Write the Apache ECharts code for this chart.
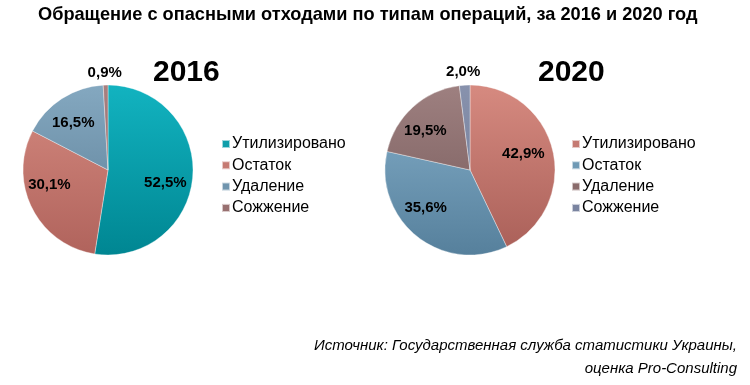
<!DOCTYPE html>
<html><head><meta charset="utf-8">
<script src="https://cdn.jsdelivr.net/npm/echarts@6/dist/echarts.min.js"></script>
<style>html,body{margin:0;padding:0;background:#fff}#c{width:750px;height:385px}</style>
</head><body><div id="c"></div>
<script>
const chartTitle = 'Обращение с опасными отходами по типам операций, за 2016 и 2020 год';
const categories = ['Утилизировано', 'Остаток', 'Удаление', 'Сожжение'];
const years = ['2016', '2020'];
const values2016 = [52.5, 30.1, 16.5, 0.9];
const values2020 = [42.9, 35.6, 19.5, 2.0];
const sourceLines = ['Источник: Государственная служба статистики Украины,', 'оценка Pro-Consulting'];

const FONT = '"Liberation Sans", Arial, sans-serif';
// styles
const colors2016 = [['#12b3c0', '#008692'], ['#d58a80', '#b0635c'], ['#84a8c0', '#5b7d95'], ['#a88080', '#8a6464']];
const colors2020 = [['#d68a80', '#a95f58'], ['#86b0cb', '#56809c'], ['#9e8080', '#745858'], ['#8892ad', '#6c7692']];
const legend2016 = ['#0e9eaa', '#c57a72', '#7095ae', '#987070'];
const legend2020 = ['#c57a72', '#6f9ab5', '#8a6c6c', '#7a84a0'];
const offsets2016 = [[12, 9], [-18, -6], [-10, -9], [-2, -52]];
const offsets2020 = [[9, -6], [-16, 2], [-14, -5], [-4, -53]];
const centers = [[108, 170], [470, 170]];
const R = 85;

function grad(c, cy) {
  return new echarts.graphic.LinearGradient(0, cy - R, 0, cy + R, [
    { offset: 0, color: c[0] }, { offset: 1, color: c[1] }
  ], true);
}
function fmt(p) { return p.value.toFixed(1).replace('.', ',') + '%'; }

function buildSeries(vals, cols, offs, center) {
  return {
    type: 'pie',
    center: center,
    radius: [0, R],
    startAngle: 90,
    clockwise: true,
    animation: false,
    avoidLabelOverlap: false,
    itemStyle: { borderColor: 'rgba(255,255,255,0.6)', borderWidth: 0.6 },
    label: {
      show: true, position: 'inside', formatter: fmt,
      fontFamily: FONT, fontSize: 15, fontWeight: 'bold', color: '#000'
    },
    labelLine: { show: false },
    emphasis: { disabled: true },
    data: categories.map((n, i) => ({
      name: n, value: vals[i],
      itemStyle: { color: grad(cols[i], center[1]) },
      label: { offset: offs[i] }
    }))
  };
}

function buildLegend(left, cols) {
  return {
    orient: 'vertical', left: left, top: 131,
    icon: 'rect', itemWidth: 8, itemHeight: 8, itemGap: 5.3,
    selectedMode: false,
    textStyle: { fontFamily: FONT, fontSize: 16, color: '#000', lineHeight: 16, padding: [0, 0, 0, -3] },
    data: categories.map((n, i) => ({ name: n, itemStyle: { color: cols[i] } }))
  };
}

const chart = echarts.init(document.getElementById('c'), null, { renderer: 'canvas' });
chart.setOption({
  backgroundColor: '#fff',
  animation: false,
  title: [
    { text: chartTitle, left: 33, top: 1, textStyle: { fontFamily: FONT, fontSize: 18.2, fontWeight: 'bold', color: '#000' } },
    { text: years[0], left: 148, top: 53, textStyle: { fontFamily: FONT, fontSize: 30, fontWeight: 'bold', color: '#000' } },
    { text: years[1], left: 533, top: 53, textStyle: { fontFamily: FONT, fontSize: 30, fontWeight: 'bold', color: '#000' } },
    { text: sourceLines[0], right: 8, top: 333, textStyle: { fontFamily: FONT, fontSize: 15, fontStyle: 'italic', fontWeight: 'normal', color: '#000' } },
    { text: sourceLines[1], right: 8, top: 356, textStyle: { fontFamily: FONT, fontSize: 15, fontStyle: 'italic', fontWeight: 'normal', color: '#000' } }
  ],
  legend: [buildLegend(216, legend2016), buildLegend(566, legend2020)],
  series: [
    buildSeries(values2016, colors2016, offsets2016, centers[0]),
    buildSeries(values2020, colors2020, offsets2020, centers[1])
  ]
});
</script></body></html>
